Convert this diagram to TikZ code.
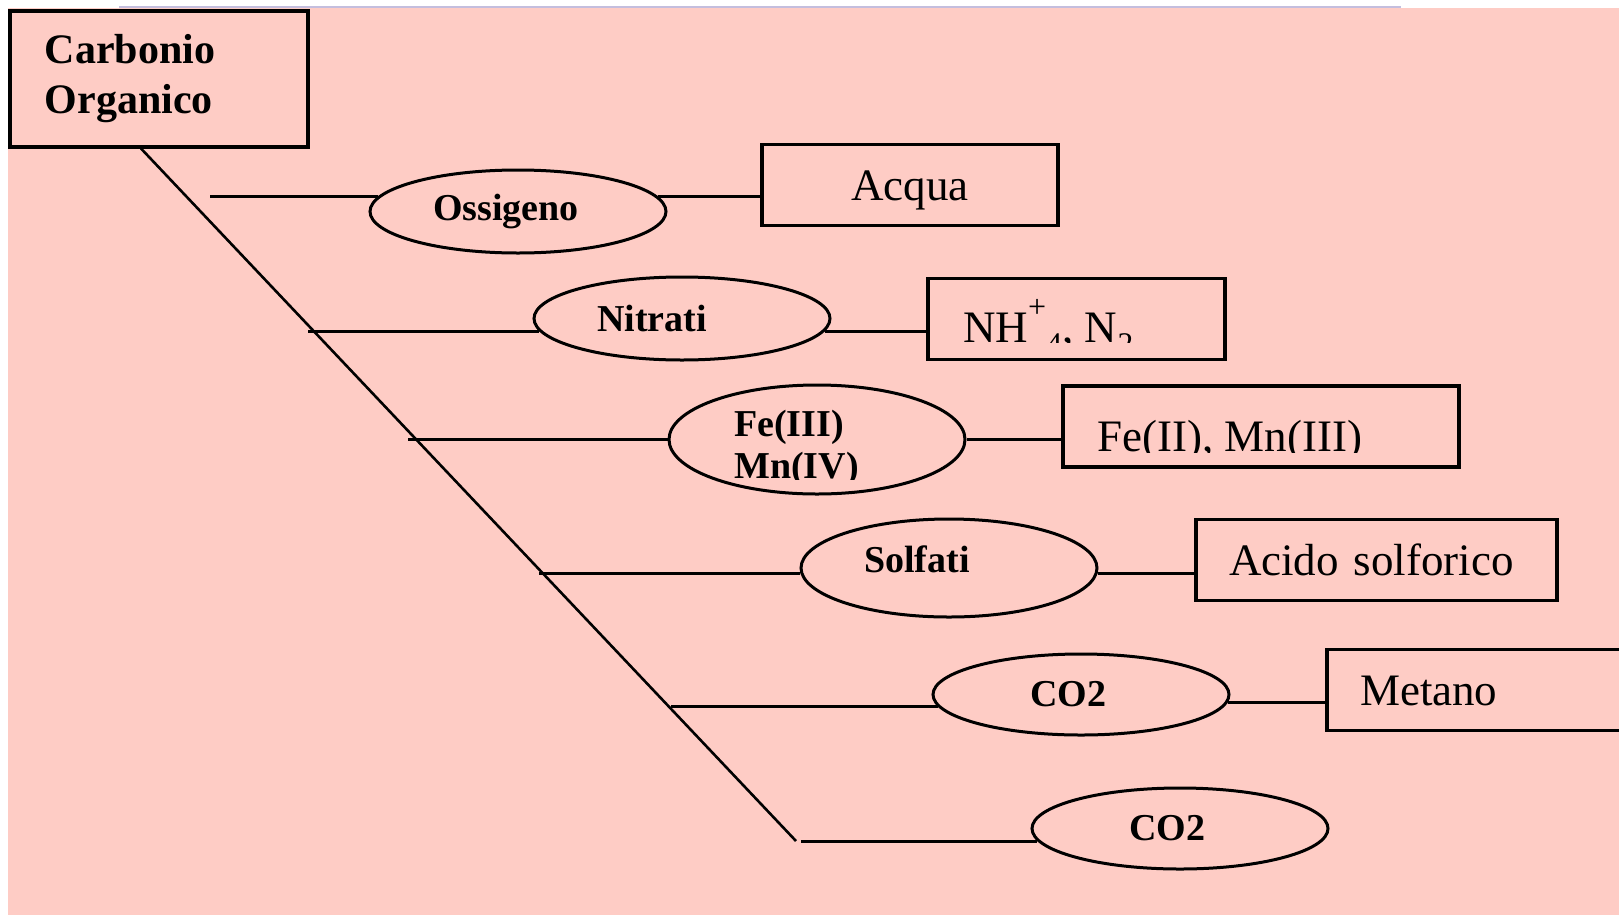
\documentclass[tikz,border=0pt]{standalone}
\usepackage{fontspec}
\setmainfont{Liberation Serif}
\usepackage{tikz}
\usetikzlibrary{shapes.geometric}
\definecolor{bgpink}{RGB}{254,204,197}
\definecolor{edgeline}{RGB}{196,190,222}
\newcommand{\carbfont}{\fontsize{42}{50}\selectfont\bfseries}
\newcommand{\ovalfont}{\fontsize{38}{42}\selectfont\bfseries}
\newcommand{\resfont}{\fontsize{45}{50}\selectfont}

\begin{document}
\begin{tikzpicture}[x=1pt,y=-1pt,
oval/.style={draw,ellipse,line width=3pt,minimum width=296pt,minimum height=82pt,inner sep=0pt,font=\ovalfont},
lshift/.style={execute at begin node={\hspace*{#1}}},
res/.style={draw,line width=3.2pt,minimum height=81pt,inner xsep=33pt,inner ysep=0pt,text height=30pt,text depth=0pt,align=left,font=\resfont},
link/.style={line width=3pt}]
\useasboundingbox (0,0) rectangle (1619,916);
\fill[bgpink] (8,8) rectangle (1619,915);
\draw[edgeline,line width=1.2pt] (119,7) -- (1401,7);
\node[draw,line width=3.5pt,anchor=north west,text width=228pt,inner xsep=35pt,minimum height=136pt,align=left,font=\carbfont] (carb) at (8,9) {Carbonio\\Organico};
\node[oval,minimum height=83pt,lshift=-24pt] (oss) at (518,211.5) {Ossigeno};
\node[oval,minimum height=83pt,lshift=-60pt] (nit) at (682,318.5) {Nitrati};
\node[oval,minimum height=109pt] (fe3) at (817,439.5) {};
\node[oval,minimum height=98pt,lshift=-64pt,text depth=18pt] (sol) at (949,568) {Solfati};
\node[oval,minimum height=81pt,lshift=-26pt] (co2a) at (1081,694.5) {CO2};
\node[oval,minimum height=81pt,lshift=-26pt] (co2b) at (1180,828.5) {CO2};
\node[res,text width=230pt,align=center] (acq) at (910,185) {Acqua};
\node[res,minimum width=297pt] (nh4) at (1076.5,319) {};
\node[res,minimum width=396pt] (fe2) at (1261,426.5) {};
\node[res,text width=295pt] (aci) at (1376.5,560) {Acido solforico};
\node[res,text width=254pt] (met) at (1487,690) {Metano};
\begin{scope}
\clip (669,385) rectangle (965,479);
\node[anchor=north west,inner sep=0pt,align=left,font=\ovalfont] (fe3t) at (734,410) {Fe(III)\\Mn(IV)};
\end{scope}
\begin{scope}
\clip (nh4.north west) rectangle (1225,342);
\node[anchor=base west,inner sep=0pt,font=\resfont] (nh4t) at (963,342) {NH\raisebox{25pt}{\fontsize{32}{32}\selectfont +}\textsubscript{4}, N\textsubscript{2}};
\end{scope}
\begin{scope}
\clip (fe2.north west) rectangle (1459,452);
\node[anchor=base west,inner sep=0pt,font=\resfont] (fe2t) at (1097,451) {Fe(II), Mn(III)};
\end{scope}
\coordinate (dend) at (796,841);
\coordinate (s1) at (oss.174 -| 210,0);
\coordinate (s2) at (nit.185 -| 308,0);
\coordinate (s3) at (fe3.west -| 408,0);
\coordinate (s4) at (sol.182 -| 539,0);
\coordinate (s5) at (co2a.185 -| 671,0);
\coordinate (s6) at (co2b.185 -| 801,0);
\draw[line width=2.6pt] (carb.south -| 141,0) -- (dend);
\draw[link] (s1) -- (oss.174);
\draw[link] (s2) -- (nit.185);
\draw[link] (s3) -- (fe3.west);
\draw[link] (s4) -- (sol.182);
\draw[link] (s5) -- (co2a.185);
\draw[link] (s6) -- (co2b.185);
\draw[link] (oss.6) -- (oss.6 -| acq.west);
\draw[link] (nit.355) -- (nit.355 -| nh4.west);
\draw[link] (fe3.east) -- (fe3.east -| fe2.west);
\draw[link] (sol.358) -- (sol.358 -| aci.west);
\draw[link] (co2a.357) -- (co2a.357 -| met.west);
\end{tikzpicture}
\end{document}
